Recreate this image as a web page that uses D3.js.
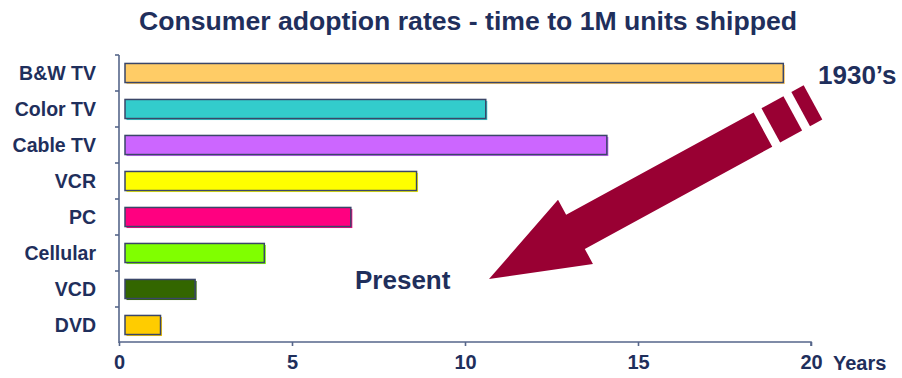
<!DOCTYPE html>
<html>
<head>
<meta charset="utf-8">
<script src="https://cdn.jsdelivr.net/npm/d3@7"></script>
<style>
  html, body { margin: 0; padding: 0; background: #ffffff; }
  svg { display: block; }
  text { font-family: "Liberation Sans", Arial, sans-serif; font-weight: bold; }
</style>
</head>
<body>
<svg id="chart" width="902" height="378"></svg>
<script>
// ---- data ----
const categories = ["B&W TV", "Color TV", "Cable TV", "VCR", "PC", "Cellular", "VCD", "DVD"];
const years      = [19.2, 10.6, 14.1, 8.6, 6.7, 4.2, 2.2, 1.2];
const barColors  = ["#FFCC66", "#33CCCC", "#CC66FF", "#FFFF00", "#FF0080", "#80FF00", "#336600", "#FFCC00"];
const xTicks     = [0, 5, 10, 15, 20];
const titleText  = "Consumer adoption rates - time to 1M units shipped";
const axisUnit   = "Years";
const startLabel = "1930\u2019s";
const endLabel   = "Present";

// ---- layout ----
const navy = "#1F2F5C";
const axisColor = "#56668A";
const svg = d3.select("#chart");

const x = d3.scaleLinear().domain([0, 20]).range([119, 811]);
const y = d3.scaleBand().domain(categories).range([55, 343]).paddingInner(0).paddingOuter(0);
const barH = y.bandwidth() * 0.53;
const barGap = 6;

// title
svg.append("text")
  .attr("x", 468).attr("y", 30)
  .attr("text-anchor", "middle")
  .attr("font-size", 25)
  .attr("fill", navy)
  .attr("textLength", 658).attr("lengthAdjust", "spacingAndGlyphs")
  .text(titleText);

// bars: shadow then main
const rows = categories.map((c, i) => ({ c, v: years[i], col: barColors[i] }));
svg.append("g").selectAll("rect").data(rows).join("rect")
  .attr("x", d => x(0) + barGap + 1.5)
  .attr("y", d => y(d.c) + (y.bandwidth() - barH) / 2 + 1.5)
  .attr("width", d => x(d.v) - x(0) - barGap)
  .attr("height", barH)
  .attr("fill", d => d.col);
svg.append("g").selectAll("rect").data(rows).join("rect")
  .attr("x", d => x(0) + barGap)
  .attr("y", d => y(d.c) + (y.bandwidth() - barH) / 2)
  .attr("width", d => x(d.v) - x(0) - barGap)
  .attr("height", barH)
  .attr("fill", d => d.col)
  .attr("stroke", "#3A4668")
  .attr("stroke-width", 1.5);

// y axis line + ticks at band boundaries
const yAxisG = svg.append("g");
yAxisG.append("line")
  .attr("x1", x(0)).attr("x2", x(0))
  .attr("y1", y.range()[0]).attr("y2", y.range()[1])
  .attr("stroke", axisColor).attr("stroke-width", 1.6);
const bounds = categories.map(c => y(c));
yAxisG.selectAll("line.t").data(bounds).join("line").attr("class", "t")
  .attr("x1", x(0) - 4).attr("x2", x(0))
  .attr("y1", d => d).attr("y2", d => d)
  .attr("stroke", axisColor).attr("stroke-width", 1.6);

// category labels
svg.append("g").selectAll("text").data(categories).join("text")
  .attr("x", 96)
  .attr("y", d => y(d) + y.bandwidth() / 2)
  .attr("dy", "0.35em")
  .attr("text-anchor", "end")
  .attr("font-size", 19.5)
  .attr("fill", navy)
  .text(d => d);

// x axis
const xAxis = d3.axisBottom(x).tickValues(xTicks).tickSize(4).tickPadding(9).tickFormat(d3.format("d"));
const xg = svg.append("g").attr("transform", `translate(0,${y.range()[1] - 1})`).call(xAxis);
xg.select(".domain").attr("stroke", axisColor).attr("stroke-width", 1.6)
  .attr("d", `M${x(0)},0H${x(20)}V4`);
xg.selectAll(".tick line").attr("stroke", axisColor).attr("stroke-width", 1.6);
xg.selectAll(".tick text")
  .attr("fill", navy).attr("font-size", 20)
  .attr("font-family", '"Liberation Sans", Arial, sans-serif').attr("font-weight", "bold");
svg.append("text")
  .attr("x", x(20) + 22).attr("y", 370)
  .attr("font-size", 20).attr("fill", navy)
  .text(axisUnit);

// arrow annotation (from 1930's to Present)
const arrow = svg.append("g").attr("transform", "translate(489,279) rotate(-28.6)");
const headLen = 98.5, headHalf = 36.5, shaftHalf = 19.5;
arrow.append("path")
  .attr("d", `M0,0 L${headLen},${-headHalf} L${headLen},${-shaftHalf} L312,${-shaftHalf} L312,${shaftHalf} L${headLen},${shaftHalf} L${headLen},${headHalf} Z`)
  .attr("fill", "#990033");
[[321, 346], [355, 369]].forEach(([a, b]) => {
  arrow.append("rect").attr("x", a).attr("y", -shaftHalf).attr("width", b - a).attr("height", shaftHalf * 2).attr("fill", "#990033");
});

svg.append("text").attr("x", 818).attr("y", 84).attr("font-size", 26).attr("fill", navy).text(startLabel);
svg.append("text").attr("x", 355).attr("y", 289).attr("font-size", 26).attr("fill", navy).text(endLabel);
</script>
</body>
</html>
